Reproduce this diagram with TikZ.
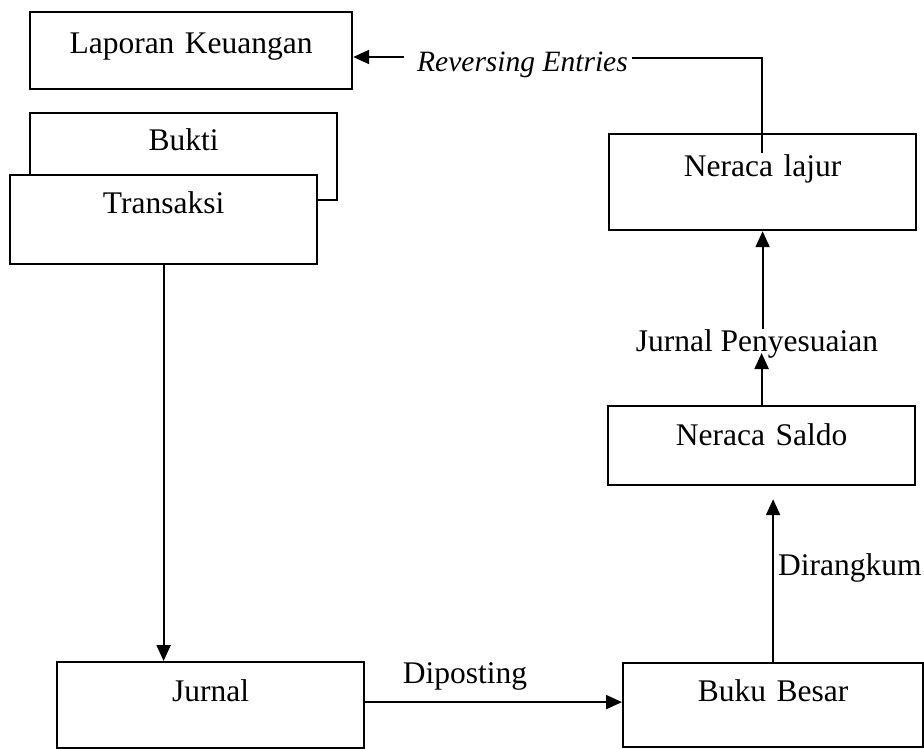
\documentclass[tikz,border=0pt]{standalone}
\usepackage{fontspec}
\setmainfont{Liberation Serif}
\usetikzlibrary{arrows.meta}
\begin{document}
\begin{tikzpicture}[x=1pt,y=-1pt,
  font=\fontsize{31.5}{36}\selectfont,
  box/.style={draw, line width=2.2pt, fill=white, inner xsep=0pt, inner ysep=0pt, align=center, anchor=north west},
  arr/.style={line width=2.1pt, -{Triangle[length=16pt,width=14pt]}},
  conn/.style={line width=2.1pt},
  lbl/.style={inner sep=0pt}]
\useasboundingbox (0,0) rectangle (924,749);
% boxes
\node[box, text width=322pt, text height=41pt, text depth=36pt] (lk) at (29,11) {Laporan Keuangan};
\node[box, text width=307pt, text height=37pt, text depth=50pt] (bk) at (29,112) {Bukti};
\node[box, text width=307pt, text height=38pt, text depth=51pt] (tr) at (9,174) {Transaksi};
\node[box, text width=307pt, text height=42pt, text depth=54pt] (nl) at (608,133) {Neraca lajur};
\node[box, text width=307pt, text height=39pt, text depth=40pt] (ns) at (607,405) {Neraca Saldo};
\node[box, text width=307pt, text height=39pt, text depth=47pt] (jn) at (56,661) {Jurnal};
\node[box, text width=300pt, text height=38pt, text depth=46pt] (bb) at (622,662) {Buku Besar};
% labels
\node[lbl, anchor=base west, font=\fontsize{29.5}{36}\selectfont\itshape] (rev) at (417,72) {Reversing Entries};
\node[lbl, anchor=base] (dp) at (465,683) {Diposting};
\node[lbl, anchor=base west] (dr) at (778,575) {Dirangkum};
\node[lbl, anchor=base] (jp) at (757,351) {Jurnal Penyesuaian};
% connectors
\draw[arr] (tr.south) -- (tr.south |- jn.north);
\draw[arr] ([yshift=3pt]jn.east) -- ([yshift=3pt]jn.east -| bb.west);
\draw[arr] (bb.north) -- ([yshift=-13pt]bb.north |- ns.south);
\draw[arr] (ns.north) -- ([yshift=5pt]ns.north |- jp.south);
\draw[arr] (jp.north -| nl.south) -- (nl.south);
\coordinate (rvin) at (762,153);
\coordinate (rvout) at (632,58);
\coordinate (rvarr) at (404,57);
\draw[conn] (rvin) |- (rvout);
\draw[arr] (rvarr) -- (rvarr -| lk.east);
\end{tikzpicture}
\end{document}
